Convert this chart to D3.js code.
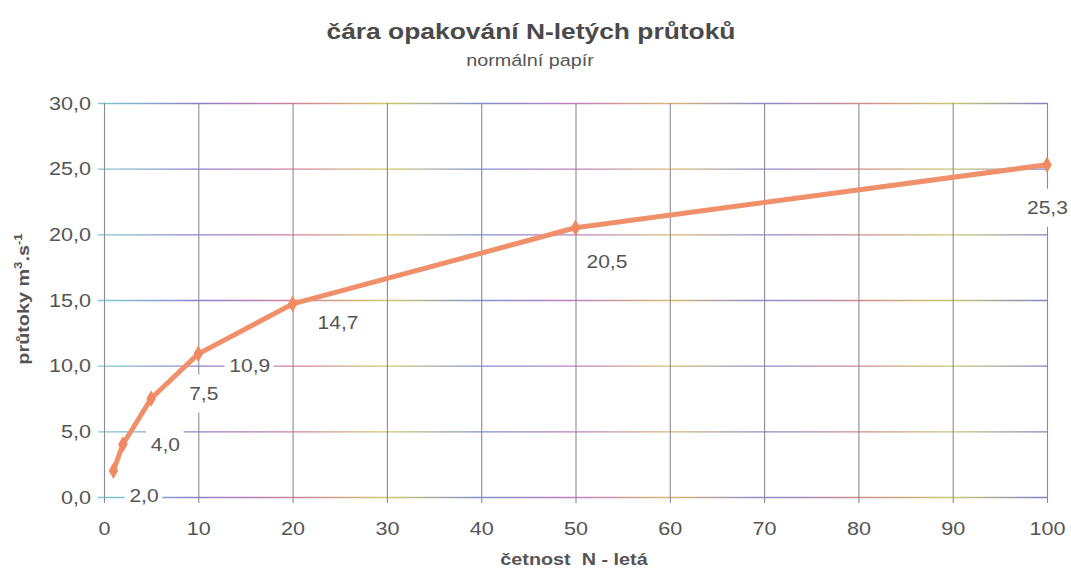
<!DOCTYPE html>
<html>
<head>
<meta charset="utf-8">
<script src="https://cdn.jsdelivr.net/npm/d3@7"></script>
<style>
  body { margin: 0; background: #fff; }
  text { font-family: "Liberation Sans", Arial, sans-serif; white-space: pre; }
</style>
</head>
<body>
<div id="chart"></div>
<script>
// 1071 x 572

var years  = [1, 2, 5, 10, 20, 50, 100];
var flows  = [2.0, 4.0, 7.5, 10.9, 14.7, 20.5, 25.3];
var xTicks = [0, 10, 20, 30, 40, 50, 60, 70, 80, 90, 100];
var yTicks = [0, 5, 10, 15, 20, 25, 30];

// posun popisku vuci bodu (jen rozlozeni)
var labelNudge = [[16, 25], [28, 0], [38, -5], [31, 12], [25, 19], [11, 34], [-20, 43]];

var width = 1071, height = 572;
var margin = { top: 103, right: 24, bottom: 75, left: 104 };
var S = 1.2; // pismo je na predloze roztazene do sirky

var svg = d3.select('#chart').append('svg')
    .attr('width', width)
    .attr('height', height);

var x = d3.scaleLinear().domain([0, 100]).range([margin.left, width - margin.right]);
var y = d3.scaleLinear().domain([0, 30]).range([height - margin.bottom, margin.top]);

var fmt = function(v) { return d3.format('.1f')(v).replace('.', ','); };

// barevna mrizka jako na tisku
var defs = svg.append('defs');
var grad = defs.append('linearGradient')
    .attr('id', 'hgrid')
    .attr('gradientUnits', 'userSpaceOnUse')
    .attr('x1', x(0)).attr('x2', x(100))
    .attr('y1', 0).attr('y2', 0);
var gcols = ['#7fc8d0', '#8f7fd0', '#d07fa0', '#d0c86a', '#7f8fd0', '#c07fc0', '#d8b870', '#8a8ad0', '#d08a8a', '#c8c870', '#8080c8'];
gcols.forEach(function(c, i) {
    grad.append('stop').attr('offset', i / (gcols.length - 1)).attr('stop-color', c);
});

var grid = svg.append('g');

grid.selectAll('.hline')
    .data(yTicks)
    .enter()
    .append('line')
        .attr('x1', x(0) - 6).attr('x2', x(100))
        .attr('y1', d => y(d) + 0.5).attr('y2', d => y(d) + 0.5)
        .style('stroke', 'url(#hgrid)')
        .style('stroke-width', 1.3);

grid.selectAll('.vline')
    .data(xTicks)
    .enter()
    .append('line')
        .attr('x1', d => x(d) + 0.5).attr('x2', d => x(d) + 0.5)
        .attr('y1', y(30)).attr('y2', y(0) + 6)
        .style('stroke', '#8d8a96')
        .style('stroke-width', 1.1);

// osy - popisky
var yAxis = svg.append('g')
    .attr('transform', 'translate(' + (x(0) - 13) + ',0)')
    .call(d3.axisLeft(y).tickValues(yTicks).tickFormat(fmt).tickSize(0).tickPadding(0));
yAxis.select('.domain').remove();
yAxis.selectAll('text')
    .attr('x', 0)
    .attr('font-size', '18px')
    .attr('fill', '#555')
    .attr('dy', '0.35em')
    .attr('transform', 'scale(' + S + ',1)')
    .style('font-family', '"Liberation Sans", Arial, sans-serif');

var xAxis = svg.append('g')
    .attr('transform', 'translate(0,' + (y(0) + 25) + ')')
    .call(d3.axisBottom(x).tickValues(xTicks).tickSize(0).tickPadding(0));
xAxis.select('.domain').remove();
xAxis.selectAll('text')
    .attr('y', 0)
    .attr('font-size', '18px')
    .attr('fill', '#555')
    .attr('dy', '0.71em')
    .attr('transform', 'scale(' + S + ',1)')
    .style('font-family', '"Liberation Sans", Arial, sans-serif');

// krivka
var pts = years.map((d, i) => ({ n: d, q: flows[i], i: i }));

// popisky hodnot - bily podklad pod carou, text nahore
var lab = svg.selectAll('.lab')
    .data(pts)
    .enter()
    .append('g')
        .attr('transform', d => 'translate(' + (x(d.n) + labelNudge[d.i][0]) + ',' + (y(d.q) + labelNudge[d.i][1]) + ') scale(' + S + ',1)');

var labText = lab.append('text')
    .attr('dy', '0.35em')
    .attr('font-size', '17.5px')
    .attr('fill', '#555')
    .text(d => fmt(d.q));

labText.each(function() {
    var b = this.getBBox();
    d3.select(this.parentNode).insert('rect', 'text')
        .attr('x', b.x - 4).attr('y', -19)
        .attr('width', b.width + 7).attr('height', 38)
        .attr('fill', '#fff');
});

svg.append('path')
    .datum(pts)
    .attr('fill', 'none')
    .attr('stroke', '#f0906a')
    .attr('stroke-width', 5)
    .attr('stroke-linejoin', 'round')
    .attr('d', d3.line().x(d => x(d.n)).y(d => y(d.q)));

svg.selectAll('.marker')
    .data(pts)
    .enter()
    .append('path')
        .attr('d', d3.symbol().type(d3.symbolDiamond).size(80))
        .attr('transform', d => 'translate(' + x(d.n) + ',' + y(d.q) + ')')
        .attr('fill', '#ef8a62');

// text popisku nad carou
labText.each(function() { this.parentNode.parentNode.appendChild(this.parentNode); });

// titulky
svg.append('text')
    .attr('transform', 'translate(531,39) scale(' + S + ',1)')
    .attr('text-anchor', 'middle')
    .attr('font-size', '22px')
    .attr('font-weight', 'bold')
    .attr('fill', '#4a4a4a')
    .text('čára opakování N-letých průtoků');

svg.append('text')
    .attr('transform', 'translate(530,66) scale(' + S + ',1)')
    .attr('text-anchor', 'middle')
    .attr('font-size', '16.5px')
    .attr('fill', '#555')
    .text('normální papír');

svg.append('text')
    .attr('transform', 'translate(574,565) scale(' + S + ',1)')
    .attr('text-anchor', 'middle')
    .attr('font-size', '16.5px')
    .attr('font-weight', 'bold')
    .attr('fill', '#555')
    .text('četnost  N - letá');

var yt = svg.append('text')
    .attr('transform', 'translate(29,299) rotate(-90) scale(' + S + ',1)')
    .attr('text-anchor', 'middle')
    .attr('font-size', '16.5px')
    .attr('font-weight', 'bold')
    .attr('fill', '#555');
yt.append('tspan').text('průtoky m');
yt.append('tspan').attr('font-size', '11px').attr('dy', '-7').text('3');
yt.append('tspan').attr('dy', '7').text('.s');
yt.append('tspan').attr('font-size', '11px').attr('dy', '-7').text('-1');
</script>
</body>
</html>
